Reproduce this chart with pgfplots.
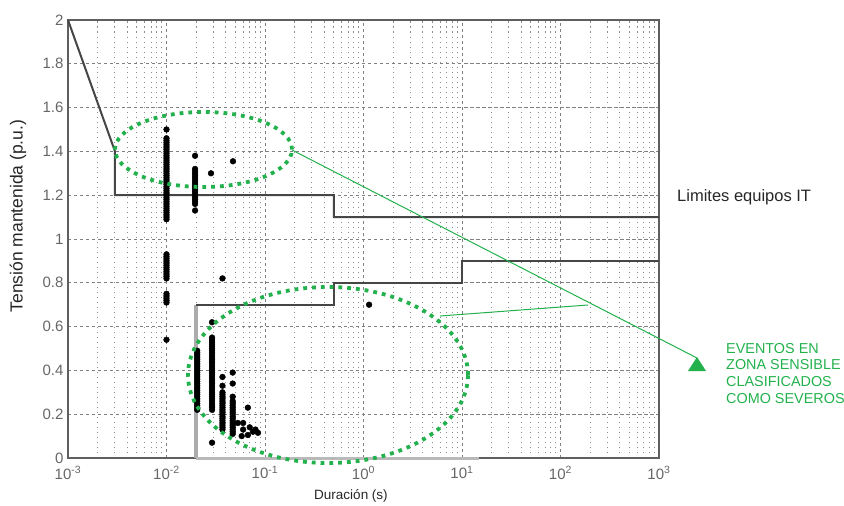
\documentclass[border=0pt]{standalone}
\usepackage{pgfplots}
\pgfplotsset{compat=1.18}
\usepackage{fontspec}
\setmainfont{Liberation Sans}
\definecolor{grn}{RGB}{34,177,76}
\definecolor{frame}{RGB}{95,95,95}
\definecolor{curve}{RGB}{70,70,70}
\begin{document}
\begin{tikzpicture}
\path[use as bounding box] (0,0) rectangle (844pt,-506pt);
\begin{axis}[
  at={(68pt,-458pt)}, anchor=south west,
  scale only axis, width=591pt, height=438pt,
  xmode=log, xmin=1e-3, xmax=1e3, ymin=0, ymax=2,
  xtick={1e-3,1e-2,1e-1,1,10,100,1000},
  xticklabels={10\textsuperscript{-3},10\textsuperscript{-2},10\textsuperscript{-1},10\textsuperscript{0},10\textsuperscript{1},10\textsuperscript{2},10\textsuperscript{3}},
  minor xtick={2e-3,3e-3,4e-3,5e-3,6e-3,7e-3,8e-3,9e-3,2e-2,3e-2,4e-2,5e-2,6e-2,7e-2,8e-2,9e-2,0.2,0.3,0.4,0.5,0.6,0.7,0.8,0.9,2,3,4,5,6,7,8,9,20,30,40,50,60,70,80,90,200,300,400,500,600,700,800,900},
  ytick={0,0.2,0.4,0.6,0.8,1,1.2,1.4,1.6,1.8,2},
  yticklabels={0,0.2,0.4,0.6,0.8,1,1.2,1.4,1.6,1.8,2},
  xmajorgrids, xminorgrids, ymajorgrids,
  major grid style={black!50, line width=0.9pt, dash pattern=on 3.5pt off 2.5pt},
  minor grid style={black!45, line width=1pt, dash pattern=on 1.5pt off 3.5pt},
  tick style={draw=none},
  axis line style={frame, line width=1.4pt},
  tick label style={text=black!60, font=\fontsize{15}{15}\selectfont},
  xticklabel style={yshift=-5pt},
  yticklabel style={xshift=-1pt},
  clip=false,
]
% limit curves
\addplot[curve, line width=2pt] coordinates {(1e-3,2) (0.003,1.4) (0.003,1.2) (0.5,1.2) (0.5,1.1) (1000,1.1)};
\addplot[gray!65, line width=3.5pt] coordinates {(0.02,0) (0.02,0.7)};
\addplot[gray!55, line width=3pt] coordinates {(0.02,0) (15,0)};
\addplot[curve, line width=2pt] coordinates {(0.02,0.7) (0.5,0.7) (0.5,0.8) (10,0.8) (10,0.9) (1000,0.9)};
% events
\addplot[only marks, mark=*, mark size=2.9pt, black] coordinates {
(0.01,1.50) (0.01,1.46) (0.01,1.45) (0.01,1.44) (0.01,1.43) (0.01,1.42) (0.01,1.41) (0.01,1.40) (0.01,1.39) (0.01,1.38) (0.01,1.37) (0.01,1.36) (0.01,1.35) (0.01,1.34) (0.01,1.33) (0.01,1.32) (0.01,1.31) (0.01,1.30) (0.01,1.29) (0.01,1.28) (0.01,1.27) (0.01,1.26) (0.01,1.25) (0.01,1.24) (0.01,1.23) (0.01,1.22) (0.01,1.21) (0.01,1.20) (0.01,1.19) (0.01,1.18) (0.01,1.17) (0.01,1.16) (0.01,1.15) (0.01,1.14) (0.01,1.13) (0.01,1.12) (0.01,1.11) (0.01,1.10) (0.01,1.09)
(0.01,0.93) (0.01,0.92) (0.01,0.91) (0.01,0.90) (0.01,0.89) (0.01,0.88) (0.01,0.87) (0.01,0.86) (0.01,0.85) (0.01,0.84) (0.01,0.83) (0.01,0.82)
(0.01,0.75) (0.01,0.74) (0.01,0.73) (0.01,0.72) (0.01,0.71) (0.01,0.54)
(0.0195,1.38) (0.0195,1.32) (0.0195,1.31) (0.0195,1.30) (0.0195,1.29) (0.0195,1.28) (0.0195,1.27) (0.0195,1.26) (0.0195,1.25) (0.0195,1.24) (0.0195,1.23) (0.0195,1.22) (0.0195,1.21) (0.0195,1.20) (0.0195,1.19) (0.0195,1.18) (0.0195,1.17) (0.0195,1.16) (0.0195,1.13)
(0.0283,1.30) (0.0473,1.355) (0.037,0.82) (1.14,0.70)
(0.0205,0.49) (0.0205,0.48) (0.0205,0.47) (0.0205,0.46) (0.0205,0.45) (0.0205,0.44) (0.0205,0.43) (0.0205,0.42) (0.0205,0.41) (0.0205,0.40) (0.0205,0.39) (0.0205,0.38) (0.0205,0.37) (0.0205,0.36) (0.0205,0.35) (0.0205,0.34) (0.0205,0.33) (0.0205,0.32) (0.0205,0.31) (0.0205,0.30) (0.0205,0.29) (0.0205,0.28) (0.0205,0.27) (0.0205,0.26) (0.0205,0.25) (0.0205,0.24) (0.0205,0.23) (0.0205,0.22)
(0.029,0.62) (0.029,0.55) (0.029,0.54) (0.029,0.53) (0.029,0.52) (0.029,0.51) (0.029,0.50) (0.029,0.49) (0.029,0.48) (0.029,0.47) (0.029,0.46) (0.029,0.45) (0.029,0.44) (0.029,0.43) (0.029,0.42) (0.029,0.41) (0.029,0.40) (0.029,0.39) (0.029,0.38) (0.029,0.37) (0.029,0.36) (0.029,0.35) (0.029,0.34) (0.029,0.33) (0.029,0.32) (0.029,0.31) (0.029,0.30) (0.029,0.29) (0.029,0.28) (0.029,0.27) (0.029,0.26) (0.029,0.25) (0.029,0.24) (0.029,0.23) (0.029,0.22) (0.029,0.07)
(0.037,0.37) (0.037,0.33) (0.037,0.30) (0.037,0.29) (0.037,0.28) (0.037,0.27) (0.037,0.26) (0.037,0.25) (0.037,0.24) (0.037,0.23) (0.037,0.22) (0.037,0.21) (0.037,0.20) (0.037,0.19) (0.037,0.18) (0.037,0.17) (0.037,0.16) (0.037,0.15) (0.037,0.14) (0.037,0.13)
(0.047,0.39) (0.047,0.34) (0.047,0.28) (0.047,0.26) (0.047,0.25) (0.047,0.24) (0.047,0.23) (0.047,0.22) (0.047,0.21) (0.047,0.20) (0.047,0.19) (0.047,0.18) (0.047,0.17) (0.047,0.16) (0.047,0.15) (0.047,0.14) (0.047,0.13) (0.047,0.12) (0.047,0.11)
(0.067,0.23) (0.053,0.16) (0.060,0.13) (0.067,0.105) (0.0755,0.12) (0.085,0.115) (0.060,0.16) (0.070,0.14) (0.058,0.10) (0.080,0.13)
};
\end{axis}
% axis labels
\node[font=\fontsize{13.5}{13.5}\selectfont, text=black!85] at (351pt,-496pt) {Duración (s)};
\node[font=\fontsize{17.5}{17.5}\selectfont, text=black!85, rotate=90] at (18pt,-216pt) {Tensión mantenida (p.u.)};
% annotations
\node[anchor=west, inner sep=0pt, font=\fontsize{16.5}{16.5}\selectfont, text=black!85] at (677pt,-197pt) {Limites equipos IT};
\node[anchor=north west, align=left, inner sep=0pt, text=grn, font=\fontsize{14.4}{16.7}\selectfont] at (726pt,-343pt) {EVENTOS EN\\ZONA SENSIBLE\\CLASIFICADOS\\COMO SEVEROS};
\draw[grn, line width=1pt] (292pt,-150pt) -- (697pt,-358pt);
\draw[grn, line width=1pt] (440pt,-316pt) -- (588pt,-305pt);
\fill[grn] (697pt,-357pt) -- (706pt,-371pt) -- (688pt,-371pt) -- cycle;
\draw[grn, line width=3.8pt, dash pattern=on 3.8pt off 5pt] (203.5pt,-149.5pt) ellipse [x radius=88.5pt, y radius=37.5pt];
\draw[grn, line width=3.8pt, dash pattern=on 3.8pt off 5pt] (328pt,-375pt) ellipse [x radius=140pt, y radius=88pt];
\end{tikzpicture}
\end{document}
